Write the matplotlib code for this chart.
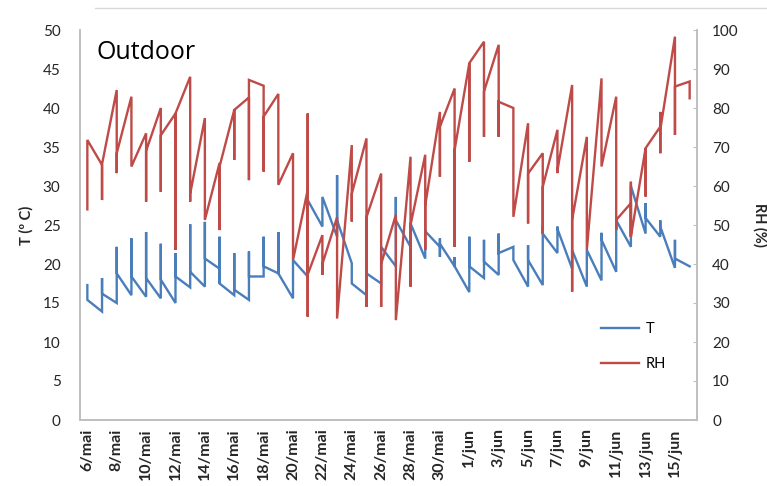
import matplotlib
matplotlib.use("Agg")
import matplotlib.pyplot as plt
from matplotlib.lines import Line2D

# daily calendar (one position per day, several readings stacked on each day)
dates = ["6/mai", "7/mai", "8/mai", "9/mai", "10/mai", "11/mai", "12/mai", "13/mai",
         "14/mai", "15/mai", "16/mai", "17/mai", "18/mai", "19/mai", "20/mai", "21/mai",
         "22/mai", "23/mai", "24/mai", "25/mai", "26/mai", "27/mai", "28/mai", "29/mai",
         "30/mai", "31/mai", "1/jun", "2/jun", "3/jun", "4/jun", "5/jun", "6/jun",
         "7/jun", "8/jun", "9/jun", "10/jun", "11/jun", "12/jun", "13/jun", "14/jun",
         "15/jun", "16/jun"]
tick_labels = dates[::2]

# temperature (°C): first, lowest, highest and last reading of each day
t_first = [17.3, 13.9, 15.0, 16.0, 15.8, 15.6, 15.0, 17.0, 17.1, 19.4, 16.0, 15.4,
           18.4, 18.8, 15.6, 18.4, 24.8, 23.5, 20.1, 16.0, 17.5, 19.7, 22.2, 20.7,
           22.2, 19.7, 16.4, 18.2, 18.6, 22.2, 17.1, 17.3, 21.4, 19.4, 17.1, 17.9,
           19.0, 22.2, 23.9, 23.5, 19.5, 19.7]
t_low = [15.4, 13.9, 15.0, 16.0, 15.8, 15.6, 15.0, 17.0, 17.1, 17.5, 16.0, 15.4,
         18.4, 18.8, 15.6, 18.4, 24.8, 23.5, 17.5, 16.0, 17.5, 19.7, 21.4, 20.7,
         20.9, 19.7, 16.4, 18.2, 18.6, 20.5, 17.1, 17.3, 21.4, 19.4, 17.1, 17.9,
         19.0, 22.2, 23.9, 23.5, 19.5, 19.7]
t_high = [17.3, 18.2, 22.2, 23.3, 24.1, 22.6, 21.4, 25.1, 25.4, 23.5, 21.4, 21.6,
          23.5, 24.1, 20.5, 28.2, 28.6, 31.4, 20.1, 19.0, 22.2, 28.6, 25.2, 24.4,
          23.3, 20.9, 23.5, 23.1, 23.9, 22.2, 22.4, 24.8, 24.8, 21.8, 21.8, 24.0,
          25.6, 30.0, 27.8, 25.6, 23.1, 19.7]
t_last = [15.4, 16.2, 18.8, 18.4, 18.2, 18.0, 18.4, 19.0, 20.7, 17.5, 16.7, 18.4,
          19.7, 18.8, 20.5, 28.2, 28.6, 25.6, 17.5, 18.8, 22.2, 25.6, 25.2, 24.2,
          22.6, 19.7, 19.7, 20.3, 21.4, 20.5, 20.5, 23.9, 24.5, 21.8, 21.8, 23.1,
          25.6, 30.0, 25.9, 24.8, 20.7, 19.7]

# relative humidity (%): first, lowest, highest and last reading of each day
rh_first = [54.0, 65.4, 84.6, 82.9, 73.5, 80.0, 78.6, 88.0, 77.4, 65.9, 79.5, 82.7,
            85.7, 83.6, 68.4, 59.0, 47.4, 52.0, 70.5, 72.2, 63.2, 52.6, 67.5, 68.0,
            79.0, 85.0, 91.5, 97.0, 96.2, 80.0, 76.1, 68.4, 74.4, 85.9, 72.6, 87.6,
            82.9, 55.6, 69.7, 75.2, 98.3, 86.8]
rh_low = [54.0, 56.4, 63.3, 65.0, 56.0, 58.5, 43.6, 56.0, 51.3, 48.7, 66.7, 61.5,
          63.7, 60.3, 41.0, 26.5, 37.2, 26.0, 50.9, 29.0, 29.0, 25.6, 34.2, 43.6,
          62.4, 44.4, 66.2, 72.6, 72.6, 52.1, 50.4, 47.9, 63.3, 32.9, 43.6, 65.0,
          48.7, 47.0, 57.3, 68.4, 73.1, 82.5]
rh_high = [71.8, 65.6, 84.6, 82.9, 73.5, 80.0, 78.6, 88.0, 77.4, 65.9, 79.5, 87.2,
           85.7, 83.6, 68.4, 78.6, 47.4, 52.0, 70.5, 72.2, 63.2, 52.6, 67.5, 68.0,
           79.0, 85.0, 91.5, 97.0, 96.2, 80.0, 76.1, 68.4, 74.4, 85.9, 72.6, 87.6,
           82.9, 61.1, 69.7, 79.0, 98.3, 86.8]
rh_last = [71.8, 65.6, 68.4, 65.0, 69.0, 73.0, 78.6, 58.0, 51.3, 65.0, 79.5, 87.2,
           77.8, 60.3, 41.0, 37.3, 40.0, 26.0, 58.0, 52.0, 40.0, 25.6, 50.0, 55.0,
           75.2, 69.2, 91.5, 84.2, 81.6, 52.1, 63.2, 59.8, 64.0, 51.3, 43.6, 65.0,
           51.3, 47.0, 69.7, 74.4, 85.5, 82.5]


def daily_path(first, low, high, last):
    xs, ys = [], []
    for i, vals in enumerate(zip(first, low, high, last)):
        xs.extend([i] * 4)
        ys.extend(vals)
    return xs, ys


blue = "#4A7EBB"
red = "#BE4B48"
grey = "#BFBFBF"
text_col = "#262626"
font = "Lato"

fig = plt.figure(figsize=(7.67, 4.86), dpi=100)
ax = fig.add_axes([80 / 767, 1 - 420 / 486, 617 / 767, 390 / 486])
ax2 = ax.twinx()

# thin frame line along the top of the chart area
fig.add_artist(Line2D([95 / 767, 1.0], [1 - 8 / 486, 1 - 8 / 486],
                      transform=fig.transFigure, color="#D9D9D9", lw=1.0))

tx, ty = daily_path(t_first, t_low, t_high, t_last)
hx, hy = daily_path(rh_first, rh_low, rh_high, rh_last)
lt, = ax.plot(tx, ty, color=blue, lw=1.7, solid_joinstyle="miter", zorder=3)
lh, = ax2.plot(hx, hy, color=red, lw=1.7, solid_joinstyle="miter", zorder=2)

ax.set_xlim(-0.5, len(dates) - 0.5)
ax.set_ylim(0, 50)
ax2.set_ylim(0, 100)
ax.set_yticks(range(0, 51, 5))
ax2.set_yticks(range(0, 101, 10))
ax.set_xticks(range(0, len(dates), 2))
ax.set_xticklabels(tick_labels, rotation=90, fontsize=11.5, fontweight="bold",
                   color=text_col, family=font)

for a in (ax, ax2):
    a.spines["top"].set_visible(False)
    for side in ("left", "right", "bottom"):
        a.spines[side].set_color(grey)
        a.spines[side].set_linewidth(1.2)
    a.set_facecolor("none")

ax.tick_params(axis="y", length=0, pad=14, labelsize=11, labelcolor=text_col)
ax.tick_params(axis="x", length=0, pad=6)
ax2.tick_params(axis="y", direction="in", length=3, color=grey, pad=11,
                labelsize=11, labelcolor=text_col)
for lab in ax.get_yticklabels() + ax2.get_yticklabels():
    lab.set_family(font)

ax.set_ylabel("T (º C)", fontsize=10.5, fontweight="bold", color=text_col,
              family=font, labelpad=7)
ax2.set_ylabel("RH (%)", fontsize=10.5, fontweight="bold", color=text_col,
               family=font, rotation=270, labelpad=20)

ax.text(0.027, 0.975, "Outdoor", transform=ax.transAxes, fontsize=18,
        family="Open Sans", color="black", va="top", ha="left")

ax.legend([lt, lh], ["T", "RH"], loc="upper left", bbox_to_anchor=(0.823, 0.285),
          frameon=False, handlelength=2.6, handletextpad=0.5, labelspacing=1.45,
          prop={"family": font, "size": 10.5})

fig.savefig("out.png", dpi=100)
